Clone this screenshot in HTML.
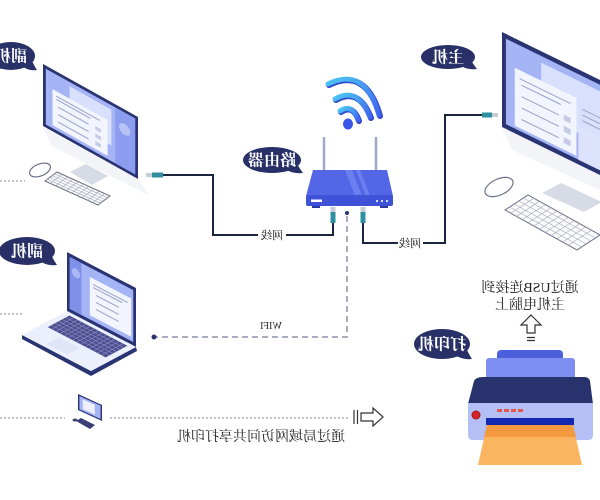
<!DOCTYPE html>
<html><head><meta charset="utf-8">
<style>
html,body{margin:0;padding:0;background:#fff;}
svg{display:block;}
.b{font-family:"Liberation Serif","Noto Serif CJK SC",serif;font-weight:bold;fill:#fff;font-size:16px;}
.t{font-family:"Liberation Serif","Noto Serif CJK SC",serif;fill:#222;}
.n{vector-effect:non-scaling-stroke;}
</style></head><body>
<svg width="600" height="500" viewBox="0 0 600 500" xmlns="http://www.w3.org/2000/svg">
<defs>
<linearGradient id="wg" x1="0" y1="0" x2="1" y2="1">
<stop offset="0" stop-color="#4cc6f4"/><stop offset="1" stop-color="#3f63f0"/>
</linearGradient>
</defs>
<rect width="600" height="500" fill="#fff"/>

<!-- dotted lines -->
<g stroke="#9aa0b4" stroke-width="1.2" stroke-dasharray="2 2" fill="none">
<path d="M0,181H25"/><path d="M0,314H24"/><path d="M0,418H65"/><path d="M110,418H350"/>
</g>

<!-- LEFT DESKTOP -->
<polygon points="43,127 139,180 150,196 52,146" fill="#f3f4f8"/>
<polygon points="70,172 86,164 108,176 92,185" fill="#d7dbe6"/>
<g transform="matrix(0.95,0.53,0,0.62,43,64)">
<rect x="0" y="0" width="100" height="100" fill="#2a3473"/>
<rect x="3" y="5" width="94" height="90" fill="#a5b4f5"/>
<rect x="76" y="5" width="21" height="90" fill="#8c9def"/>
<ellipse cx="86" cy="32" rx="6" ry="9" fill="#b7c3f8"/>
<rect x="28" y="12" width="44" height="58" fill="#d9e0fb"/>
<rect x="10" y="32" width="58" height="58" fill="#f2f4fe"/>
<g stroke="#9aa3c8" stroke-width="1" class="n">
<path class="n" d="M14,40H60M14,45H50M16,56H48M16,68H48M16,80H48"/>
</g>
<rect x="55" y="53" width="6" height="6" fill="#c5cbe6"/>
<rect x="55" y="65" width="6" height="6" fill="#c5cbe6"/>
<rect x="55" y="77" width="6" height="6" fill="#c5cbe6"/>
</g>
<ellipse cx="40" cy="170" rx="11" ry="6" transform="rotate(-22 40 170)" fill="#fff" stroke="#6d7188" stroke-width="1.2"/>
<g transform="matrix(5.3,2.4,1.2,-0.9,45,181)">
<rect x="0" y="0" width="10" height="10" fill="#fafbfd" stroke="#6a6e84" stroke-width="1" class="n"/>
<path class="n" d="M1,0V10M2,0V10M3,0V10M4,0V10M5,0V10M6,0V10M7,0V10M8,0V10M9,0V10M0,2H10M0,4H10M0,6H10M0,8H10" stroke="#a4a8ba" stroke-width="0.6" fill="none"/>
</g>

<!-- LAPTOP -->
<g transform="matrix(0.69,0.36,0,0.59,67,252)">
<rect x="0" y="0" width="100" height="100" fill="#2a3473"/>
<rect x="4" y="6" width="92" height="88" fill="#a5b4f5"/>
<rect x="4" y="6" width="17" height="88" fill="#7e90e8"/>
<ellipse cx="13" cy="28" rx="6" ry="8" fill="#aab8f4"/>
<rect x="33" y="22" width="60" height="65" fill="#f2f4fe"/>
<path class="n" d="M38,32H88M38,37H80M42,48H75M42,60H75M42,72H75" stroke="#9aa3c8" stroke-width="1" fill="none"/>
</g>
<polygon points="22,335 91,371 136,347 137,351 91,376 22,339" fill="#2a3473"/>
<g transform="matrix(0.69,0.36,0.45,-0.24,22,335)">
<rect x="0" y="0" width="100" height="100" fill="#eceffc"/>
<rect x="8" y="45" width="84" height="48" fill="#4b4d8f"/>
<path class="n" d="M8,53H92M8,61H92M8,69H92M8,77H92M8,85H92M14,45V93M20,45V93M26,45V93M32,45V93M38,45V93M44,45V93M50,45V93M56,45V93M62,45V93M68,45V93M74,45V93M80,45V93M86,45V93" stroke="#8e90c4" stroke-width="0.6" fill="none"/>
<rect x="30" y="8" width="30" height="28" fill="#dfe4f7"/>
</g>

<!-- SMALL COMPUTER -->
<g transform="matrix(0.24,0.11,0,0.16,78,394)">
<rect x="0" y="0" width="100" height="100" fill="#2a3473"/>
<rect x="6" y="8" width="88" height="84" fill="#a5b4f5"/>
<rect x="20" y="20" width="50" height="60" fill="#eef1fd"/>
</g>
<polygon points="76,421 81,418 95,425 90,429" fill="#3a3f7a"/>
<ellipse cx="75" cy="420" rx="2.5" ry="1.5" fill="#3a3f7a"/>

<!-- RIGHT DESKTOP -->
<polygon points="502,127 600,175 600,190 512,150" fill="#f3f4f8"/>
<polygon points="542,193 561,183 602,202 584,212" fill="#d7dbe6"/>
<g transform="matrix(0.98,0.48,0,0.95,502,32)">
<rect x="0" y="0" width="115" height="100" fill="#2a3473"/>
<rect x="4" y="5" width="111" height="90" fill="#a5b4f5"/>
<rect x="40" y="12" width="60" height="55" fill="#d9e0fb"/>
<rect x="78" y="60" width="37" height="35" fill="#dde3fc"/>
<rect x="13" y="31" width="63" height="61" fill="#f2f4fe"/>
<path class="n" d="M18,40H70M20,46H60M20,58H58M20,70H58M20,82H58M82,40H110M82,46H110M82,52H110" stroke="#9aa3c8" stroke-width="1" fill="none"/>
<rect x="63" y="55" width="7" height="6" fill="#c5cbe6"/>
<rect x="63" y="67" width="7" height="6" fill="#c5cbe6"/>
<rect x="63" y="79" width="7" height="6" fill="#c5cbe6"/>
</g>
<ellipse cx="499" cy="187" rx="15" ry="8" transform="rotate(-25 499 187)" fill="#fff" stroke="#6d7188" stroke-width="1.2"/>
<g transform="matrix(7.2,4.0,2.3,-1.5,505,210)">
<rect x="0" y="0" width="10" height="10" fill="#fafbfd" stroke="#6a6e84" stroke-width="1" class="n"/>
<path class="n" d="M0.8,0V10M1.6,0V10M2.4,0V10M3.2,0V10M4,0V10M4.8,0V10M5.6,0V10M6.4,0V10M7.2,0V10M8,0V10M8.8,0V10M0,2H10M0,4H10M0,6H10M0,8H10" stroke="#a4a8ba" stroke-width="0.6" fill="none"/>
</g>

<!-- WIFI -->
<g fill="none" stroke-linecap="round">
<path d="M341,112 Q353,104 359,121" stroke="#2f45c8" stroke-width="6"/>
<path d="M336,100 Q359,87 371,118" stroke="#2f45c8" stroke-width="6"/>
<path d="M329,85 Q366,67 380,116" stroke="#2f45c8" stroke-width="6"/>
<path d="M340,111 Q352,103 358,120" stroke="url(#wg)" stroke-width="5"/>
<path d="M335,99 Q358,86 370,117" stroke="url(#wg)" stroke-width="5"/>
<path d="M328,84 Q365,66 379,115" stroke="url(#wg)" stroke-width="5"/>
</g>
<ellipse cx="348" cy="124" rx="5" ry="5.5" fill="#3a55e8"/>

<!-- ROUTER -->
<line x1="324" y1="137" x2="324" y2="172" stroke="#a0a8c8" stroke-width="2.5"/>
<line x1="376" y1="137" x2="376" y2="172" stroke="#a0a8c8" stroke-width="2.5"/>
<polygon points="313,170 387,170 393,196 306,196" fill="#5266e6"/>
<polygon points="345,170 352,170 362,196 355,196" fill="#6c7ff0"/>
<polygon points="356,170 360,170 370,196 366,196" fill="#6c7ff0"/>
<rect x="306" y="195" width="87" height="11" rx="2" fill="#3e52d8"/>
<rect x="311" y="199.5" width="11" height="2.5" fill="#fff"/>
<circle cx="377" cy="201" r="1.1" fill="#e6eaff"/><circle cx="382" cy="201" r="1.1" fill="#e6eaff"/><circle cx="387" cy="201" r="1.1" fill="#e6eaff"/>
<rect x="312" y="206" width="8" height="2" fill="#2b3a9e"/><rect x="380" y="206" width="8" height="2" fill="#2b3a9e"/>

<!-- WIFI dashed line -->
<path d="M347,216V337H156" fill="none" stroke="#8a90a8" stroke-width="1.5" stroke-dasharray="6 4"/>
<circle cx="347" cy="213" r="2" fill="#2a3473"/>
<circle cx="154" cy="337" r="2.5" fill="#2a3473"/>

<!-- Cables -->
<g fill="none" stroke="#1c2540" stroke-width="2">
<path d="M163,175H213V235H258"/>
<path d="M286,235H333V222"/>
<path d="M363,222V243H398"/>
<path d="M423,243H445V115H482"/>
</g>
<rect x="146" y="173" width="6" height="4" fill="#c5ccd6"/><rect x="152" y="172.5" width="11" height="5" fill="#2e8fa0"/>
<rect x="482" y="112.5" width="10" height="5" fill="#2e8fa0"/><rect x="492" y="113" width="6" height="4" fill="#c5ccd6"/>
<rect x="330.5" y="207" width="5" height="5" fill="#c5ccd6"/><rect x="330.5" y="212" width="5" height="11" fill="#2e8fa0"/>
<rect x="360.5" y="207" width="5" height="5" fill="#c5ccd6"/><rect x="360.5" y="212" width="5" height="11" fill="#2e8fa0"/>

<!-- labels (mirrored) -->
<g transform="translate(272,0) scale(-1,1)"><text class="t" x="0" y="239" text-anchor="middle" font-size="11">网线</text></g>
<g transform="translate(410,0) scale(-1,1)"><text class="t" x="0" y="247" text-anchor="middle" font-size="11">网线</text></g>
<g transform="translate(271,0) scale(-1,1)"><text class="t" x="0" y="329" text-anchor="middle" font-size="10">WIFI</text></g>

<!-- bubbles -->
<g fill="#283067">
<ellipse cx="11" cy="56" rx="24" ry="14"/>
<path d="M24.2,67.6 Q30.2,71 37,70 Q35,67.2 32.6,62 Z"/>
<ellipse cx="27" cy="251" rx="28" ry="14"/>
<path d="M42.4,262.6 Q49.4,266 57,265 Q55,262.2 52.2,257 Z"/>
<ellipse cx="272" cy="160" rx="29" ry="13"/>
<path d="M288,170.8 Q295.2,174 303,173 Q301,170.4 298.1,165.6 Z"/>
<ellipse cx="448" cy="57" rx="27" ry="12"/>
<path d="M462.9,67 Q469.6,70 477,69 Q475,66.6 472.3,62.2 Z"/>
<ellipse cx="442" cy="344" rx="28" ry="15"/>
<path d="M457.4,356.5 Q464.4,360 472,359 Q470,356 467.2,350.5 Z"/>
</g>
<g transform="translate(11,0) scale(-1,1)"><text class="b" x="0" y="61.5" text-anchor="middle">副机</text></g>
<g transform="translate(27,0) scale(-1,1)"><text class="b" x="0" y="256.5" text-anchor="middle">副机</text></g>
<g transform="translate(272,0) scale(-1,1)"><text class="b" x="0" y="165.5" text-anchor="middle">路由器</text></g>
<g transform="translate(448,0) scale(-1,1)"><text class="b" x="0" y="62.5" text-anchor="middle">主机</text></g>
<g transform="translate(442,0) scale(-1,1)"><text class="b" x="0" y="349.5" text-anchor="middle">打印机</text></g>

<!-- printer text & arrow -->
<g transform="translate(530,0) scale(-1,1)">
<text class="t" x="0" y="292" text-anchor="middle" font-size="14">通过USB连接到</text>
<text class="t" x="0" y="309" text-anchor="middle" font-size="14">主机电脑上</text>
</g>
<path d="M531,315 L541,325 L535,325 L535,333 L527,333 L527,325 L521,325 Z" fill="#fff" stroke="#333" stroke-width="1.2"/>
<path d="M527,337.5H535M527,340.5H535" stroke="#333" stroke-width="1.2"/>

<!-- PRINTER -->
<rect x="497" y="350" width="66" height="13" rx="4" fill="#4b5fdc"/>
<rect x="486" y="358" width="89" height="22" rx="3" fill="#7d8ff0"/>
<path d="M483,377 H584 Q589,377 590,381 L593,404 H468 L474,381 Q476,377 483,377 Z" fill="#28336e"/>
<path d="M468,403 H593 V435 Q593,440 588,440 H473 Q468,440 468,435 Z" fill="#b4c0f5"/>
<circle cx="476" cy="415" r="4" fill="#d8232a" stroke="#a51515" stroke-width="1"/>
<rect x="497" y="409" width="5" height="3" fill="#e0584c"/>
<rect x="504" y="409" width="5" height="3" fill="#e0584c"/>
<rect x="511" y="409" width="5" height="3" fill="#e0584c"/>
<rect x="518" y="409" width="5" height="3" fill="#e0584c"/>
<rect x="486" y="418" width="88" height="7" fill="#1228b0"/>
<polygon points="487,425 573,425 582,465 478,465" fill="#fbb45f"/>
<polygon points="487,425 573,425 576,437 484,437" fill="#f39a40"/>

<!-- bottom arrow & text -->
<path d="M354,410V424M357.5,410V424" stroke="#333" stroke-width="1.2"/>
<path d="M361,413 H373 V408 L383,417 L373,426 V421 H361 Z" fill="#fff" stroke="#333" stroke-width="1.2"/>
<g transform="translate(261,0) scale(-1,1)"><text class="t" x="0" y="441" text-anchor="middle" font-size="14">通过局域网访问共享打印机</text></g>
</svg>
</body></html>
